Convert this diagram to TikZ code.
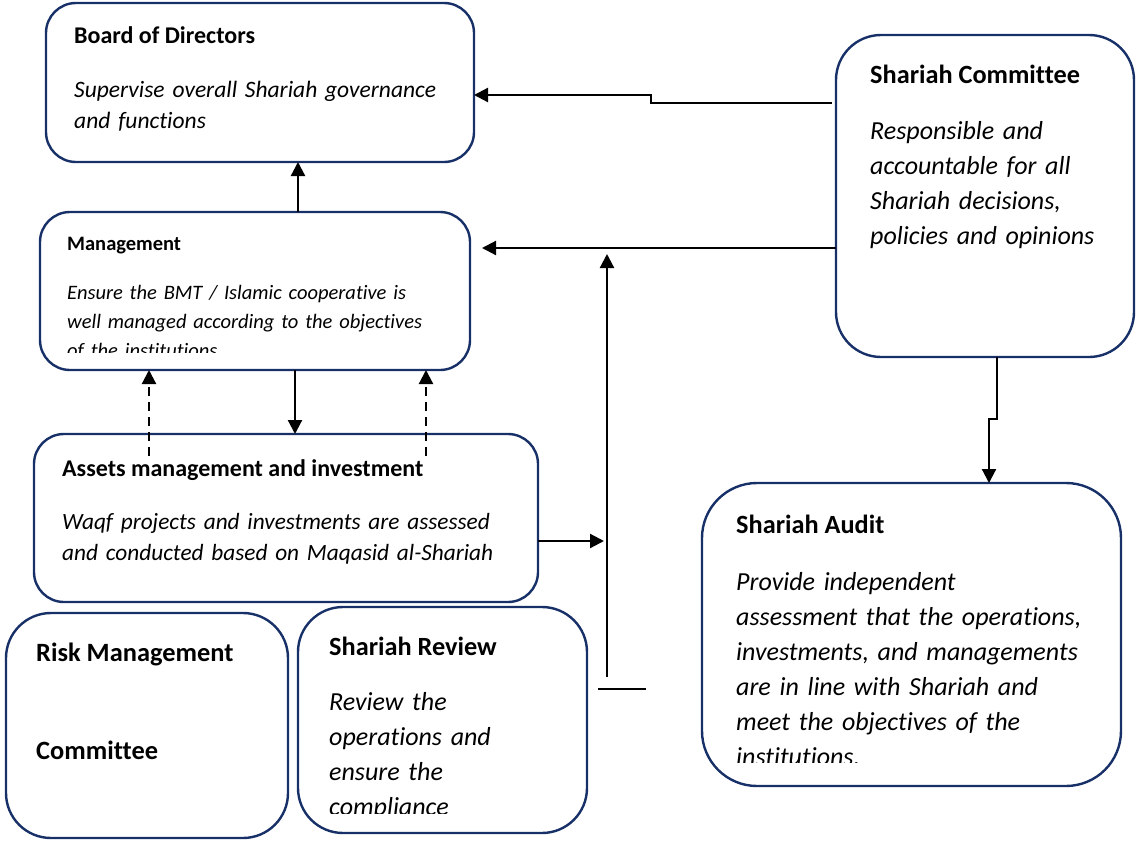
\documentclass[tikz,border=0pt]{standalone}
\usepackage{fontspec}
\setmainfont{Carlito}[Ligatures=NoCommon]
\usetikzlibrary{arrows.meta}
\definecolor{navy}{RGB}{24,48,104}
\tikzset{
  box/.style={draw=navy, line width=2.4pt, fill=white, inner sep=0pt, outer sep=0pt, anchor=north west},
  conn/.style={line width=2.2pt, -{Triangle[length=14pt,width=14pt]}},
  plainline/.style={line width=2.2pt},
  dashconn/.style={conn, dash pattern=on 9pt off 6pt},
  ttl/.style={anchor=base west, inner sep=0pt, font=\bfseries\fontsize{#1}{#1}\selectfont},
  txt/.style 2 args={anchor=base west, inner sep=0pt, text width=520pt, align=left,
    font=\itshape\fontsize{#1}{#2}\selectfont},
}
\begin{document}
\begin{tikzpicture}[x=1pt, y=-1pt]
\useasboundingbox (0,0) rectangle (1136,841);

% boxes
\node[box, rounded corners=30pt, minimum width=428pt, minimum height=159pt] (board) at (46,3) {};
\node[box, rounded corners=30pt, minimum width=430pt, minimum height=158pt] (mgmt) at (40,212) {};
\node[box, rounded corners=45pt, minimum width=298pt, minimum height=322pt] (sc) at (836,35) {};
\node[box, rounded corners=30pt, minimum width=504pt, minimum height=168pt] (assets) at (34,434) {};
\node[box, rounded corners=45pt, minimum width=282pt, minimum height=225pt] (risk) at (6,613) {};
\node[box, rounded corners=45pt, minimum width=289pt, minimum height=226pt] (review) at (298,607) {};
\node[box, rounded corners=55pt, minimum width=419pt, minimum height=303pt] (audit) at (702,483) {};

% texts
\node[ttl=24] (boardT) at (74,43) {Board of Directors};
\node[txt={23.5}{31}] (boardB) at (74,97) {Supervise overall Shariah governance\\and functions};

\node[ttl=20.5] (mgmtT) at (67,250) {Management};
\begin{scope}
  \clip (40,212) rectangle (470,352);
  \node[txt={20.5}{29}] (mgmtB) at (67,299) {Ensure the BMT / Islamic cooperative is\\well managed according to the objectives\\of the institutions};
\end{scope}

\node[ttl=26.3] (scT) at (870,83) {Shariah Committee};
\node[txt={26}{35.3}] (scB) at (870,139) {Responsible and\\accountable for all\\Shariah decisions,\\policies and opinions};

\node[ttl=24] (assetsT) at (62,476) {Assets management and investment};
\node[txt={23.3}{31}] (assetsB) at (62,529) {Waqf projects and investments are assessed\\and conducted based on Maqasid al-Shariah};

\node[ttl=26.4] (riskT1) at (36,661) {Risk Management};
\node[ttl=26.4] (riskT2) at (36,759) {Committee};

\node[ttl=26.3] (reviewT) at (329,655) {Shariah Review};
\begin{scope}
  \clip (298,607) rectangle (587,813);
  \node[txt={26}{35}] (reviewB) at (329,710) {Review the\\operations and\\ensure the\\compliance};
\end{scope}

\node[ttl=26.3] (auditT) at (736,533) {Shariah Audit};
\begin{scope}
  \clip (702,483) rectangle (1121,762);
  \node[txt={26}{35}] (auditB) at (736,590) {Provide independent\\assessment that the operations,\\investments, and managements\\are in line with Shariah and\\meet the objectives of the\\institutions.};
\end{scope}

% connectors
\coordinate (mgmtIn) at (482,248);
\coordinate (vBot) at (607,677);
\coordinate (vTop) at (607,254);
\coordinate (barL) at (598,689);
\coordinate (barR) at (646,689);
\coordinate (assetsOut) at (604,541);
\coordinate (dashL) at (149,456);
\coordinate (dashR) at (426,456);

\draw[conn] (832,103) -- (651,103) -- (651,95) -- (board.east |- 0,95);
\draw[conn] (sc.west |- 0,248) -- (mgmtIn);
\draw[conn] (vBot) -- (vTop);
\draw[plainline] (barL) -- (barR);
\draw[conn] (assets.east |- assetsOut) -- (assetsOut);
\draw[conn] (mgmt.north -| 298,0) -- (board.south -| 298,0);
\draw[conn] (mgmt.south -| 295,0) -- (assets.north -| 295,0);
\draw[dashconn] (dashL) -- (mgmt.south -| dashL);
\draw[dashconn] (dashR) -- (mgmt.south -| dashR);
\draw[conn] (sc.south -| 997,0) -- (997,419) -- (989,419) -- (audit.north -| 989,0);
\end{tikzpicture}
\end{document}
